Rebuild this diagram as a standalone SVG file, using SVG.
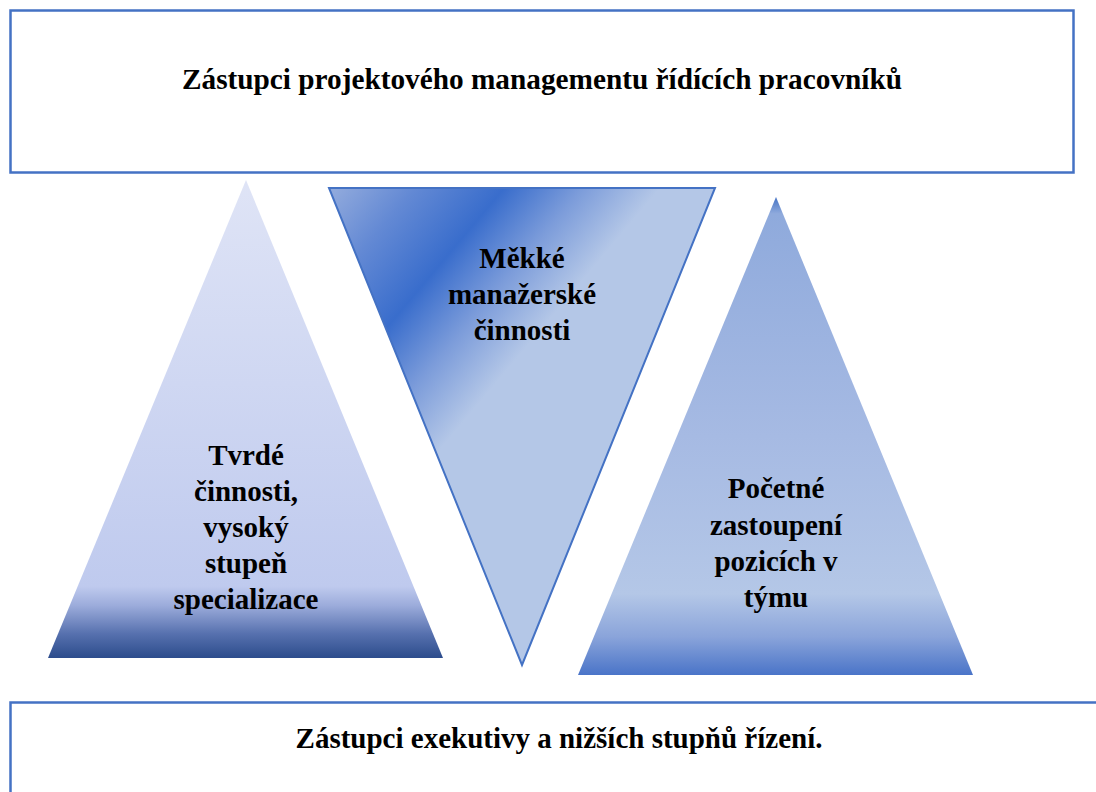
<svg xmlns="http://www.w3.org/2000/svg" width="1096" height="792" viewBox="0 0 1096 792">
<style>
.box{fill:#FFFFFF;stroke:#4472C4;stroke-width:2.5}
.t{font-family:"Liberation Serif","Times New Roman",serif;font-weight:bold;font-size:29px;fill:#000000;text-anchor:middle}
</style>
<defs>
<linearGradient id="gLeft" x1="0" y1="0" x2="0" y2="1">
<stop offset="0" stop-color="#DFE4F6"/>
<stop offset="0.85" stop-color="#BFCAEE"/>
<stop offset="0.89" stop-color="#9CACDB"/>
<stop offset="0.95" stop-color="#5670AE"/>
<stop offset="1" stop-color="#2C4C8C"/>
</linearGradient>
<linearGradient id="gRight" x1="0" y1="0" x2="0" y2="1">
<stop offset="0" stop-color="#4472C4"/>
<stop offset="0.035" stop-color="#8FAADC"/>
<stop offset="0.5" stop-color="#A6BAE3"/>
<stop offset="0.83" stop-color="#B4C7E7"/>
<stop offset="0.92" stop-color="#8AA4DA"/>
<stop offset="1" stop-color="#4A74C8"/>
</linearGradient>
<linearGradient id="gMid" gradientUnits="userSpaceOnUse" x1="329" y1="188" x2="557" y2="380">
<stop offset="0" stop-color="#94ACDD"/>
<stop offset="0.22" stop-color="#6389D4"/>
<stop offset="0.45" stop-color="#396DCC"/>
<stop offset="0.65" stop-color="#7C9CDA"/>
<stop offset="0.85" stop-color="#B4C7E7"/>
<stop offset="1" stop-color="#B4C7E7"/>
</linearGradient>
</defs>
<g id="top-box">
<rect class="box" x="10.5" y="10.5" width="1063" height="162"/>
<text class="t" x="542" y="89" textLength="720" lengthAdjust="spacingAndGlyphs">Zástupci projektového managementu řídících pracovníků</text>
</g>
<g id="bottom-box">
<rect class="box" x="10.5" y="702.5" width="1100" height="120"/>
<text class="t" x="559" y="748">Zástupci exekutivy a nižších stupňů řízení.</text>
</g>
<g id="left-triangle">
<polygon points="246,180 443,658 48,658" fill="url(#gLeft)"/>
<text class="t" x="246" y="465">Tvrdé</text>
<text class="t" x="246" y="501">činnosti,</text>
<text class="t" x="246" y="537">vysoký</text>
<text class="t" x="246" y="573">stupeň</text>
<text class="t" x="246" y="609">specializace</text>
</g>
<g id="middle-triangle">
<polygon points="329,188 715,188 522,665" fill="url(#gMid)" stroke="#4472C4" stroke-width="2"/>
<text class="t" x="522" y="268">Měkké</text>
<text class="t" x="522" y="304">manažerské</text>
<text class="t" x="522" y="340">činnosti</text>
</g>
<g id="right-triangle">
<polygon points="776,197 973,675 578,675" fill="url(#gRight)"/>
<text class="t" x="776" y="498">Početné</text>
<text class="t" x="776" y="535">zastoupení</text>
<text class="t" x="776" y="571">pozicích v</text>
<text class="t" x="776" y="607">týmu</text>
</g>
<g id="connectors"/>
</svg>
